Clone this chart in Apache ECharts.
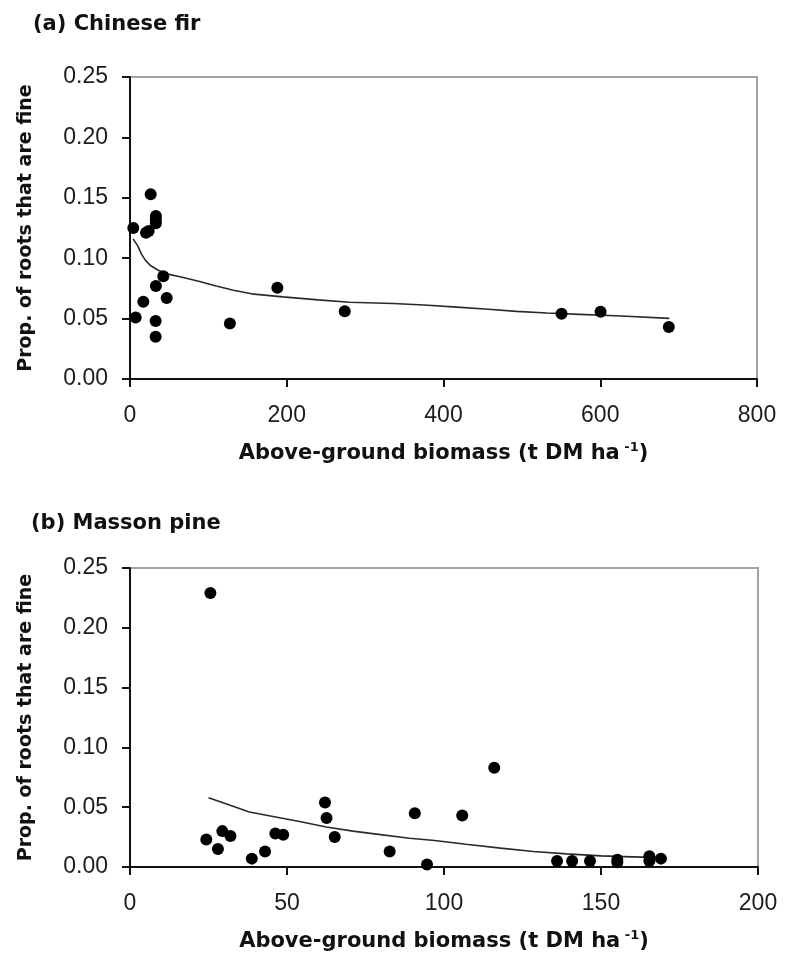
<!DOCTYPE html>
<html>
<head>
<meta charset="utf-8">
<title>Fine-root proportion vs above-ground biomass</title>
<script src="https://cdn.jsdelivr.net/npm/echarts@6/dist/echarts.min.js"></script>
<style>
  html, body { margin: 0; padding: 0; background: #fff; }
  #chart { width: 785px; height: 954px; }
</style>
</head>
<body>
<div id="chart"></div>
<script>
// (a) Chinese fir: plot observations
const firBiomass  = [4.2, 26.4, 33, 33, 33, 20.4, 23.8, 42.5, 33, 17, 46.8, 7.2, 32.7, 32.7, 127.5, 188, 274, 550.6, 600.4, 687.5];
const firFineProp = [0.125, 0.153, 0.135, 0.132, 0.129, 0.121, 0.1225, 0.085, 0.077, 0.064, 0.067, 0.051, 0.048, 0.035, 0.046, 0.0755, 0.056, 0.054, 0.0557, 0.043];

// (a) fitted curve
const firCurveX = [4, 10, 15, 20, 26, 36, 47, 68, 90, 110, 132, 155, 195, 240, 280, 336, 375, 417, 457, 493, 532, 574, 627, 688];
const firCurveY = [0.116, 0.110, 0.103, 0.098, 0.094, 0.090, 0.087, 0.084, 0.0805, 0.077, 0.0735, 0.0705, 0.068, 0.0655, 0.0635, 0.0625, 0.0612, 0.0595, 0.0578, 0.056, 0.0546, 0.0535, 0.0522, 0.0502];

// (b) Masson pine: plot observations
const pineBiomass  = [24.3, 25.6, 28, 29.4, 32, 38.8, 43, 46.3, 48.8, 62.1, 62.6, 65.2, 82.7, 90.7, 94.6, 105.8, 116, 136, 140.8, 146.5, 155.2, 155.2, 165.4, 165.4, 169.1];
const pineFineProp = [0.023, 0.229, 0.015, 0.030, 0.026, 0.007, 0.013, 0.028, 0.027, 0.054, 0.041, 0.025, 0.013, 0.045, 0.002, 0.043, 0.083, 0.005, 0.005, 0.005, 0.006, 0.004, 0.009, 0.005, 0.007];

// (b) fitted curve
const pineCurveX = [25, 31, 38, 46, 54, 62.5, 71, 78.5, 89, 97, 107, 118, 128.5, 139, 150, 160, 169];
const pineCurveY = [0.058, 0.0525, 0.046, 0.042, 0.038, 0.0335, 0.030, 0.0275, 0.024, 0.0222, 0.019, 0.0158, 0.013, 0.011, 0.0093, 0.0085, 0.0078];

// Panel titles and axis ranges
const panelTitles = ['(a) Chinese fir', '(b) Masson pine'];
const xMaxes = [800, 200];
const xSteps = [200, 50];
const yMax = 0.25;
const yStep = 0.05;

const pairs = (xs, ys) => xs.map((x, i) => [x, ys[i]]);

const TICK_FONT = 'Liberation Sans, Arial, sans-serif';
const BOLD_FONT = 'DejaVu Sans, Liberation Sans, sans-serif';

const grids = [
  { left: 130, top: 77, width: 627, height: 302 },
  { left: 130, top: 568, width: 628, height: 299 }
];

function xAxisFor(i) {
  return {
    type: 'value', gridIndex: i, min: 0, max: xMaxes[i], interval: xSteps[i],
    name: '{b|Above-ground biomass (t DM ha}{sup| -1}{b|)}',
    nameLocation: 'middle', nameGap: 62,
    nameTextStyle: {
      rich: {
        b: { fontFamily: BOLD_FONT, fontWeight: 'bold', fontSize: 21, color: '#111', lineHeight: 26 },
        sup: { fontFamily: BOLD_FONT, fontWeight: 'bold', fontSize: 13, color: '#111', verticalAlign: 'top', lineHeight: 13 }
      }
    },
    axisLine: { show: true, onZero: false, lineStyle: { color: '#111', width: 2 } },
    axisTick: { show: true, inside: false, length: 8, lineStyle: { color: '#111', width: 2 } },
    axisLabel: { show: true, margin: 25, fontFamily: TICK_FONT, fontSize: 23, color: '#1c1c1c' },
    splitLine: { show: false }
  };
}

function yAxisFor(i) {
  return {
    type: 'value', gridIndex: i, min: 0, max: yMax, interval: yStep,
    name: 'Prop. of roots that are fine',
    nameLocation: 'middle', nameGap: 94,
    nameTextStyle: { fontFamily: BOLD_FONT, fontWeight: 'bold', fontSize: 19, color: '#111' },
    axisLine: { show: true, onZero: false, lineStyle: { color: '#111', width: 2 } },
    axisTick: { show: true, inside: false, length: 8, lineStyle: { color: '#111', width: 2 } },
    axisLabel: { show: true, margin: 22, fontFamily: TICK_FONT, fontSize: 23, color: '#1c1c1c',
      formatter: v => v.toFixed(2) },
    splitLine: { show: false }
  };
}

const pointStyle = { color: '#000', opacity: 1 };
const curveStyle = { color: '#2a2a2a', width: 1.6 };

const option = {
  backgroundColor: '#fff',
  animation: false,
  title: [
    { text: panelTitles[0], left: 28, top: 9,
      textStyle: { fontFamily: BOLD_FONT, fontWeight: 'bold', fontSize: 21, color: '#111' } },
    { text: panelTitles[1], left: 26, top: 508,
      textStyle: { fontFamily: BOLD_FONT, fontWeight: 'bold', fontSize: 21, color: '#111' } }
  ],
  grid: grids.map(g => Object.assign({ show: true, borderColor: '#a3a3a3', borderWidth: 2, backgroundColor: 'transparent' }, g)),
  xAxis: [xAxisFor(0), xAxisFor(1)],
  yAxis: [yAxisFor(0), yAxisFor(1)],
  series: [
    { type: 'line', xAxisIndex: 0, yAxisIndex: 0, data: pairs(firCurveX, firCurveY),
      showSymbol: false, lineStyle: curveStyle, z: 2 },
    { type: 'scatter', xAxisIndex: 0, yAxisIndex: 0, data: pairs(firBiomass, firFineProp),
      symbol: 'circle', symbolSize: 12, itemStyle: pointStyle, z: 3 },
    { type: 'line', xAxisIndex: 1, yAxisIndex: 1, data: pairs(pineCurveX, pineCurveY),
      showSymbol: false, lineStyle: curveStyle, z: 2 },
    { type: 'scatter', xAxisIndex: 1, yAxisIndex: 1, data: pairs(pineBiomass, pineFineProp),
      symbol: 'circle', symbolSize: 12, itemStyle: pointStyle, z: 3 }
  ]
};

const chart = echarts.init(document.getElementById('chart'), null, { renderer: 'canvas' });
chart.setOption(option);
</script>
</body>
</html>
